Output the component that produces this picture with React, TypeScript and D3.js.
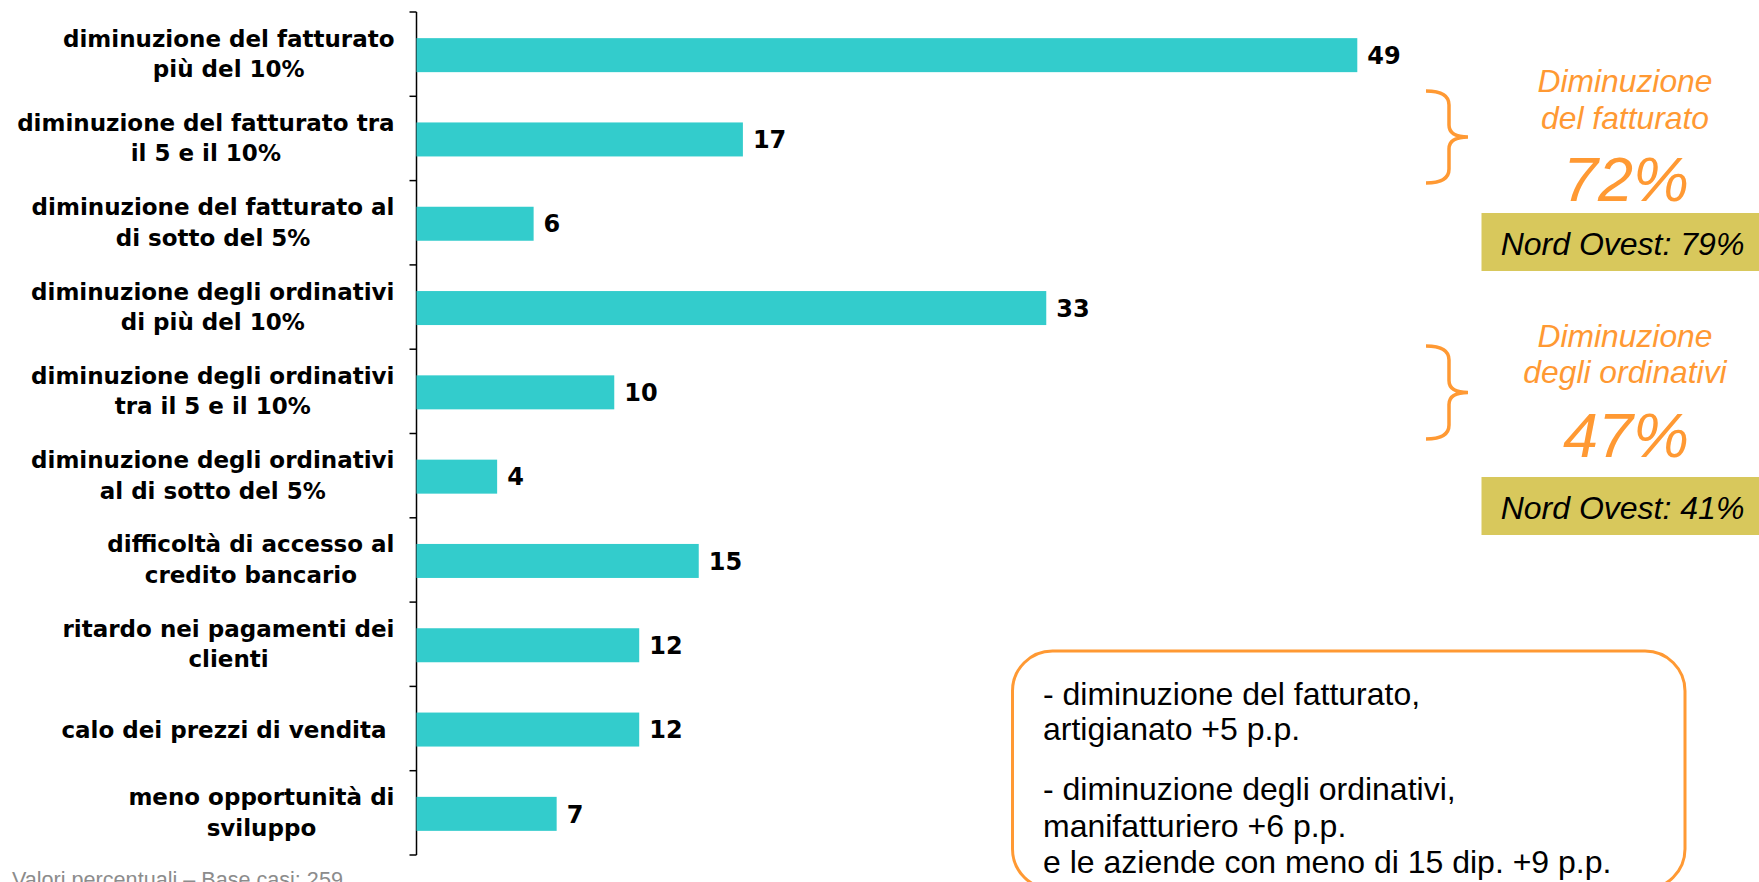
import React from "react";
import * as d3 from "d3";

const categories: string[][] = [
  ["diminuzione del fatturato", "più del 10%"],
  ["diminuzione del fatturato tra", "il 5 e il 10%"],
  ["diminuzione del fatturato al", "di sotto del 5%"],
  ["diminuzione degli ordinativi", "di più del 10%"],
  ["diminuzione degli ordinativi", "tra il 5 e il 10%"],
  ["diminuzione degli ordinativi", "al di sotto del 5%"],
  ["difficoltà di accesso al", "credito bancario"],
  ["ritardo nei pagamenti dei", "clienti"],
  ["calo dei prezzi di vendita "],
  ["meno opportunità di", "sviluppo"],
];
// bar lengths (labels shown rounded)
const values: number[] = [49, 17, 6.1, 32.8, 10.3, 4.2, 14.7, 11.6, 11.6, 7.3];

const groupTitles: string[][] = [
  ["Diminuzione", "del fatturato"],
  ["Diminuzione", "degli ordinativi"],
];
const groupTotals: string[] = ["72%", "47%"];
const groupNordOvest: string[] = ["Nord Ovest: 79%", "Nord Ovest: 41%"];
const noteLines: string[] = [
  "- diminuzione del fatturato,",
  "artigianato +5 p.p.",
  "- diminuzione degli ordinativi,",
  "manifatturiero +6 p.p.",
  "e le aziende con meno di 15 dip. +9 p.p.",
];
const footer = "Valori percentuali – Base casi: 259";

const W = 1759;
const H = 882;
const BAR = "#33CCCC";
const ORANGE = "#FF9933";
const OLIVE = "#D8C85C";

const LABEL_FONT = "'DejaVu Sans', Verdana, sans-serif";
const LABEL_SIZE = 23;
const ARIAL = "'Liberation Sans', Arial, sans-serif";

let ctx: CanvasRenderingContext2D | null = null;
function measure(s: string): number {
  if (!ctx) {
    const c = document.createElement("canvas");
    ctx = c.getContext("2d");
  }
  if (!ctx) return s.length * LABEL_SIZE * 0.6;
  ctx.font = `bold ${LABEL_SIZE}px 'DejaVu Sans'`;
  return ctx.measureText(s).width;
}

export default function App() {
  const axisX = 416.5;
  const x = d3.scaleLinear().domain([0, 60]).range([axisX, axisX + 19.2 * 60]);
  const idx = categories.map((_, i) => String(i));
  const y = d3.scaleBand<string>().domain(idx).range([12, 855]).padding(0);
  const step = y.step();
  const barH = 34;
  const boundaries = d3.range(categories.length + 1).map((i) => 12 + i * step);
  const fmt = d3.format(".0f");

  const groups = [
    { braceTop: 91, braceBot: 183, t1: 91.7, t2: 129, total: 200.7, boxY: 213, boxH: 58, boxText: 254.5 },
    { braceTop: 346, braceBot: 439, t1: 346.7, t2: 383.3, total: 456.7, boxY: 477, boxH: 58, boxText: 518.5 },
  ];

  const bracePath = (top: number, bot: number) => {
    const l = 1426, s = 1449, r = 1468;
    const m = (top + bot) / 2;
    return `M ${l} ${top} Q ${s} ${top} ${s} ${top + 14} L ${s} ${m - 12} Q ${s} ${m} ${r} ${m} Q ${s} ${m} ${s} ${m + 12} L ${s} ${bot - 14} Q ${s} ${bot} ${l} ${bot}`;
  };

  const noteBaselines = [705, 740, 800, 837, 873];
  const labelRight = 394.5;

  return (
    <div style={{ position: "fixed", left: 0, top: 0, width: W, height: H, background: "#fff" }}>
      <svg width={W} height={H} style={{ display: "block" }}>
        {/* axis */}
        <line x1={axisX} x2={axisX} y1={boundaries[0]} y2={boundaries[boundaries.length - 1]} stroke="#000" strokeWidth={1.5} />
        {boundaries.map((b, i) => (
          <line key={"t" + i} x1={axisX - 7} x2={axisX} y1={b} y2={b} stroke="#000" strokeWidth={1.5} />
        ))}
        {/* bars */}
        {values.map((v, i) => {
          const cy = (y(String(i)) as number) + step / 2 + 1;
          return (
            <g key={"b" + i}>
              <rect x={x(0)} y={cy - barH / 2} width={x(v) - x(0)} height={barH} fill={BAR} />
              <text x={x(v) + 10} y={cy + 8.7} fontFamily={LABEL_FONT} fontWeight="bold" fontSize={24} fill="#000">
                {fmt(v)}
              </text>
            </g>
          );
        })}
        {/* category labels */}
        {categories.map((lines, i) => {
          const c = (y(String(i)) as number) + step / 2;
          const ys = lines.length === 2 ? [c - 7.5, c + 23] : [c + 9.7];
          const maxW = d3.max(lines, (l) => measure(l)) || 0;
          const cx = labelRight - maxW / 2;
          return (
            <text key={"c" + i} textAnchor="middle" fontFamily={LABEL_FONT} fontWeight="bold" fontSize={LABEL_SIZE} fill="#000" style={{ whiteSpace: "pre" }}>
              {lines.map((ln, j) => (
                <tspan key={j} x={cx} y={ys[j]}>
                  {ln}
                </tspan>
              ))}
            </text>
          );
        })}
        {/* right side groups */}
        {groups.map((g, i) => (
          <g key={"g" + i}>
            <path d={bracePath(g.braceTop, g.braceBot)} fill="none" stroke={ORANGE} strokeWidth={3.5} />
            <text x={1625} y={g.t1} textAnchor="middle" fontFamily={ARIAL} fontStyle="italic" fontSize={31.8} fill={ORANGE}>
              {groupTitles[i][0]}
            </text>
            <text x={1625} y={g.t2} textAnchor="middle" fontFamily={ARIAL} fontStyle="italic" fontSize={31.8} fill={ORANGE}>
              {groupTitles[i][1]}
            </text>
            <text x={1626} y={g.total} textAnchor="middle" fontFamily={ARIAL} fontStyle="italic" fontSize={63} fill={ORANGE}>
              {groupTotals[i]}
            </text>
            <rect x={1481.5} y={g.boxY} width={W - 1481.5} height={g.boxH} fill={OLIVE} />
            <text x={1622.5} y={g.boxText} textAnchor="middle" fontFamily={ARIAL} fontStyle="italic" fontSize={32} fill="#000">
              {groupNordOvest[i]}
            </text>
          </g>
        ))}
        {/* note box */}
        <rect x={1012.5} y={651} width={672.5} height={238} rx={40} ry={40} fill="#fff" stroke={ORANGE} strokeWidth={3} />
        {noteLines.map((ln, i) => (
          <text key={"n" + i} x={1043} y={noteBaselines[i]} fontFamily={ARIAL} fontSize={32} fill="#000">
            {ln}
          </text>
        ))}
        {/* footer */}
        <text x={12} y={887} fontFamily={ARIAL} fontSize={21.6} fill="#8c8c8c">
          {footer}
        </text>
      </svg>
    </div>
  );
}
